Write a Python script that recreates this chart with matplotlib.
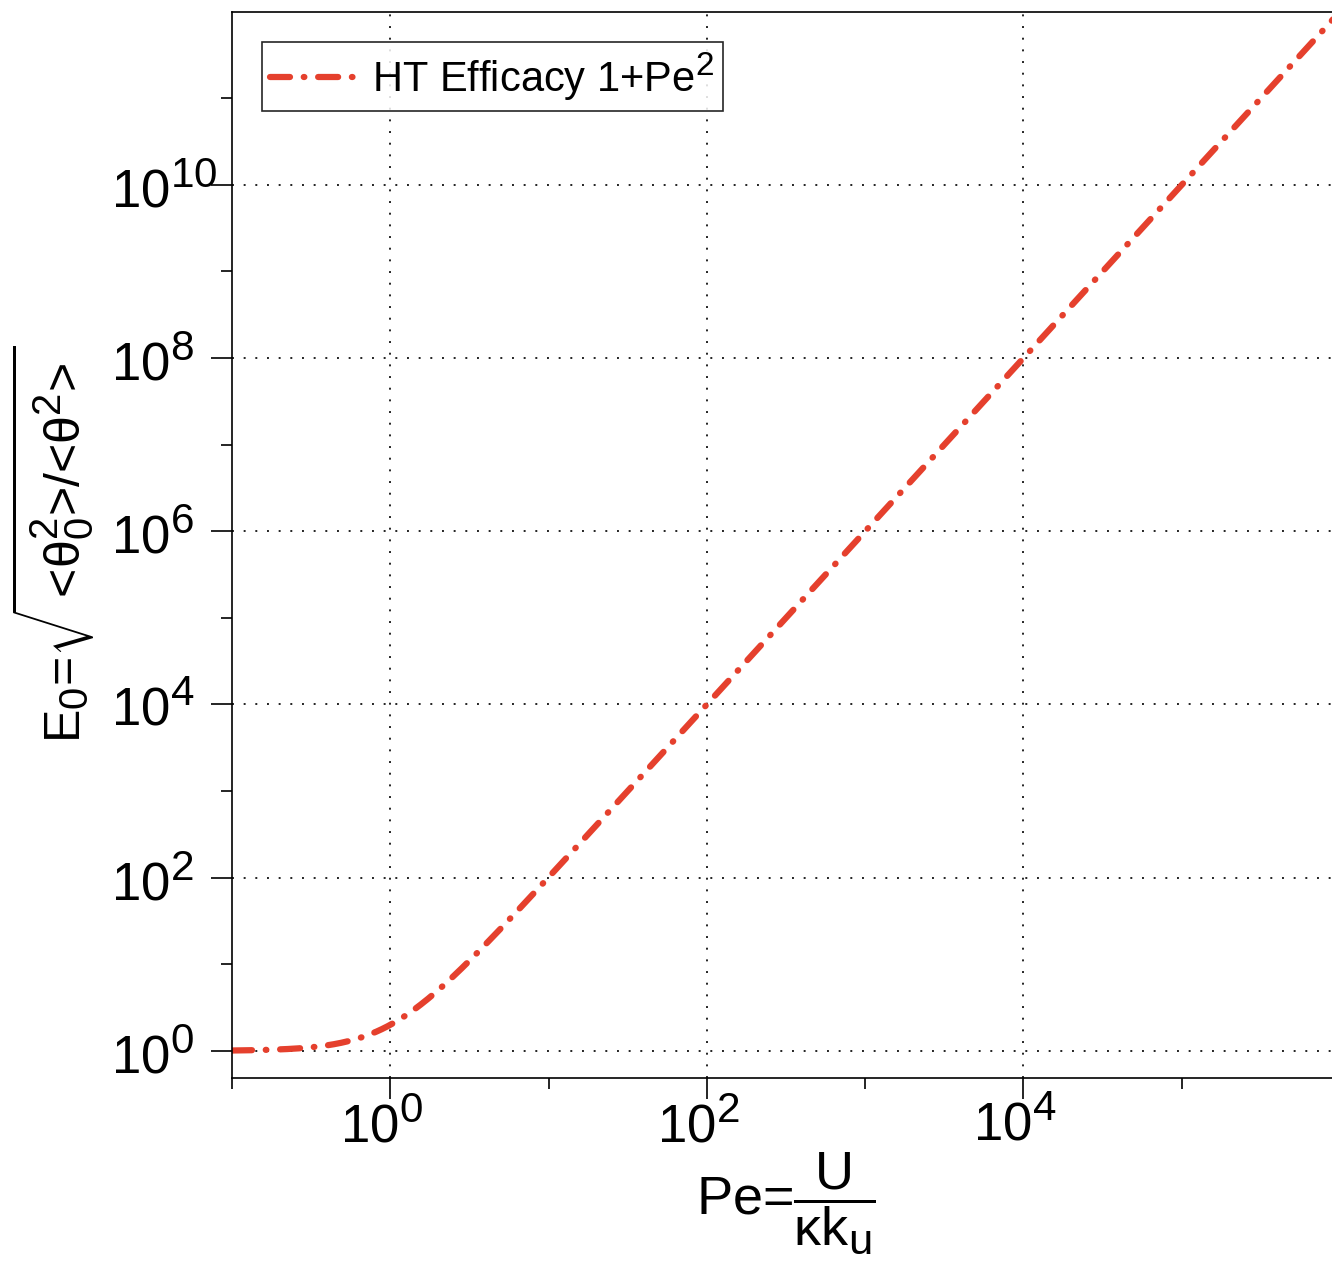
import numpy as np
import matplotlib
matplotlib.use('Agg')
import matplotlib.pyplot as plt
import matplotlib._mathtext as mathtext_internals
from matplotlib.ticker import FixedLocator, FuncFormatter, NullFormatter
from matplotlib.transforms import ScaledTranslation

plt.rcParams['font.family'] = ['Liberation Sans', 'DejaVu Sans']
plt.rcParams['mathtext.fontset'] = 'custom'
plt.rcParams['mathtext.rm'] = 'Liberation Sans'
plt.rcParams['mathtext.it'] = 'Liberation Sans'
plt.rcParams['mathtext.default'] = 'regular'
# larger exponents than mathtext's default
mathtext_internals.SHRINK_FACTOR = 0.8

# Peclet number over the plotted range; efficacy follows the legend formula 1+Pe^2
pe = np.logspace(-1, 6, 600)
efficacy = 1 + pe**2

x_major = [1e0, 1e2, 1e4]
x_minor = [1e-1, 1e1, 1e3, 1e5]
y_major = [1e0, 1e2, 1e4, 1e6, 1e8, 1e10]
y_minor = [1e1, 1e3, 1e5, 1e7, 1e9, 1e11]

W, H = 1332, 1264
fig = plt.figure(figsize=(W / 100, H / 100), dpi=100)
# axes run a little past the right edge of the canvas
ax = fig.add_axes([232 / W, 186.3 / H, 1108 / W, 1066 / H])

ax.plot(pe, efficacy, color='#e5402d', lw=4.5,
        dashes=(3.2, 2.2, 0.1, 2.2), dash_capstyle='round',
        label='HT Efficacy 1+Pe$^2$')

ax.set_xscale('log')
ax.set_yscale('log')
ax.set_xlim(1e-1, 1e6)
ax.set_ylim(0.49, 1e12)

def decade(v, pos):
    return r'$10^{%d}$' % round(np.log10(v))

ax.xaxis.set_major_locator(FixedLocator(x_major))
ax.xaxis.set_minor_locator(FixedLocator(x_minor))
ax.yaxis.set_major_locator(FixedLocator(y_major))
ax.yaxis.set_minor_locator(FixedLocator(y_minor))
ax.xaxis.set_major_formatter(FuncFormatter(decade))
ax.yaxis.set_major_formatter(FuncFormatter(decade))
ax.xaxis.set_minor_formatter(NullFormatter())
ax.yaxis.set_minor_formatter(NullFormatter())

ax.grid(which='major', color='#222222', lw=1.4, linestyle=(0, (1, 5.0)))

for s in ax.spines.values():
    s.set_linewidth(1.2)
    s.set_color('black')

ax.tick_params(which='both', direction='out', width=1.2, labelsize=38,
               top=False, right=False)
ax.tick_params(which='major', length=15)
ax.tick_params(which='minor', length=8)
ax.tick_params(axis='x', which='major', pad=0)
ax.tick_params(axis='y', which='major', pad=72)

for lab in ax.get_yticklabels():
    lab.set_horizontalalignment('left')
shift = ScaledTranslation(-9 / 100, 0, fig.dpi_scale_trans)
for lab in ax.get_xticklabels():
    lab.set_transform(lab.get_transform() + shift)

ax.set_xlabel(r'Pe=$\dfrac{U}{\kappa k_u}$', fontsize=39)
ax.xaxis.set_label_coords(0.5, -0.0678)
ax.set_ylabel(r'$E_0\hspace{-0.2}=\hspace{-0.2}\sqrt{<\hspace{-0.2}\theta_0^2\hspace{-0.2}>'
              r'\hspace{-0.2}/\hspace{-0.2}<\hspace{-0.2}\theta^2\hspace{-0.2}>}$',
              fontsize=36)
ax.yaxis.set_label_coords(-0.1227, 0.5)

leg = ax.legend(loc='upper left', bbox_to_anchor=(0.0271, 0.9716),
                borderaxespad=0, fontsize=30, handlelength=2.15,
                handletextpad=0.3, borderpad=0.2, fancybox=False,
                framealpha=0.85, edgecolor='black')
leg.get_frame().set_linewidth(1.2)

fig.savefig('out.png', dpi=100)
